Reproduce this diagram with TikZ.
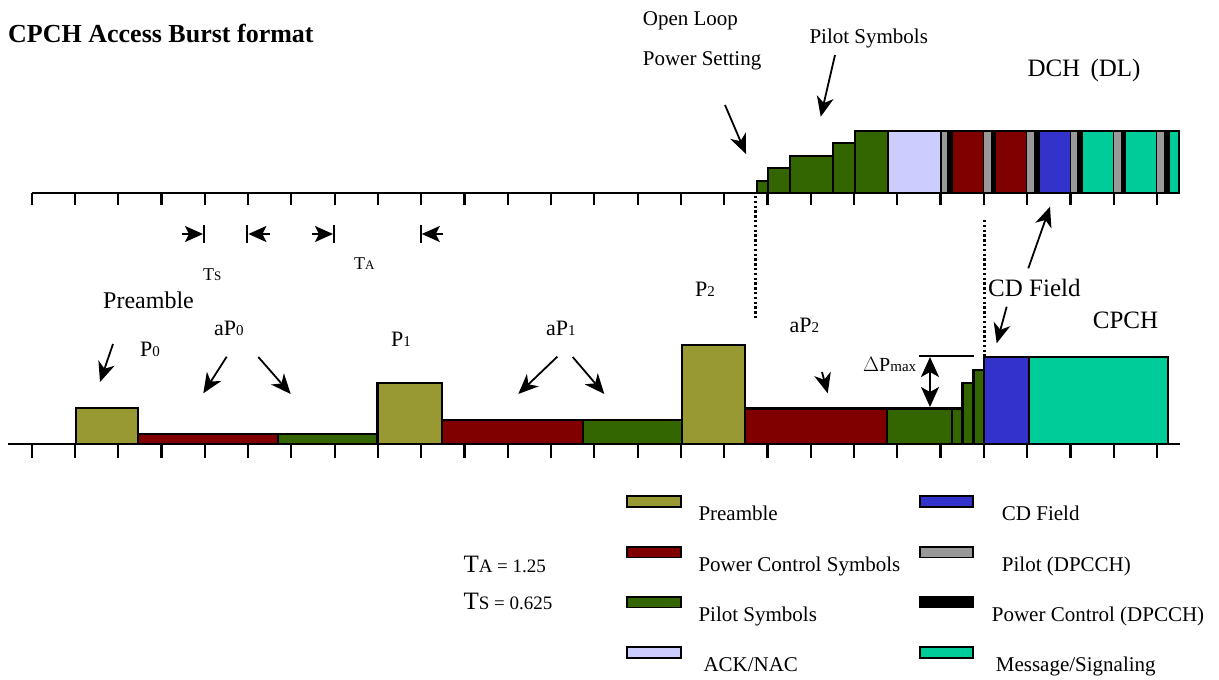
\documentclass[tikz,border=0pt]{standalone}
\usepackage{fontspec}
\setmainfont{Liberation Serif}
\usetikzlibrary{arrows.meta}

\definecolor{preamblecol}{HTML}{999933}
\definecolor{pcsym}{HTML}{800000}
\definecolor{pilotsym}{HTML}{336600}
\definecolor{acknac}{HTML}{CCCCFF}
\definecolor{cdfield}{HTML}{3333CC}
\definecolor{pilotdp}{HTML}{999999}
\definecolor{msgsig}{HTML}{00CC99}

\newcommand{\sm}[1]{{\fontsize{15}{15}\selectfont #1}}
\newcommand{\smt}[1]{{\fontsize{13}{13}\selectfont #1}}
\newcommand{\smb}[1]{{\fontsize{19}{19}\selectfont #1}}

\begin{document}
\begin{tikzpicture}[x=1pt,y=-1pt,
  box/.style={draw=black,line width=2.1pt},
  axisline/.style={line width=2.6pt},
  tickmark/.style={line width=2.2pt},
  pointer/.style={line width=1.8pt,-{Stealth[length=20pt,width=17pt,inset=6pt]}},
  marker/.style={line width=1.8pt,-{Stealth[length=18pt,width=16pt,inset=4pt]}},
  twoway/.style={line width=1.8pt,{Stealth[length=20pt,width=18pt,inset=5pt]}-{Stealth[length=20pt,width=18pt,inset=5pt]}},
  txt/.style={anchor=base west,inner sep=0pt,font=\fontsize{21}{25}\selectfont},
  big/.style={anchor=base west,inner sep=0pt,font=\fontsize{25}{30}\selectfont},
  mid/.style={anchor=base west,inner sep=0pt,font=\fontsize{22}{26}\selectfont},
  small/.style={anchor=base west,inner sep=0pt,font=\fontsize{18}{20}\selectfont},
  dots/.style={line width=2.4pt,dash pattern=on 2.4pt off 2.4pt},
  legbox/.style={draw=black,line width=1.8pt},
]
\useasboundingbox (0,0) rectangle (1219,680);

% ---------- title ----------
\node[anchor=base west,inner sep=0pt,font=\fontsize{26}{30}\selectfont\bfseries] (title) at (8,42) {CPCH Access Burst format};

% ---------- downlink (DCH) time axis ----------
\draw[axisline] (31.7,193) -- (1180,193);
\foreach \i in {0,...,26}
  \draw[tickmark] ({31.7+43.28*\i},193) -- ({31.7+43.28*\i},205);

% power ramp of pilot symbols
\filldraw[box,fill=pilotsym] (756.7,193) rectangle (767.7,180.7);
\filldraw[box,fill=pilotsym] (767.7,193) rectangle (790,168.3);
\filldraw[box,fill=pilotsym] (790,193) rectangle (833,156);
\filldraw[box,fill=pilotsym] (833,193) rectangle (855,143.3);
\filldraw[box,fill=pilotsym] (855,193) rectangle (887.7,130.7);
\filldraw[box,fill=acknac] (887.7,193) rectangle (940.7,130.7);

% DPCH slots: pilot, power control, data field
\foreach \k/\c in {0/pcsym,1/pcsym,2/cdfield,3/msgsig,4/msgsig}{
  \fill[pilotdp] ({940.7+43.3*\k},193) rectangle ({947.4+43.3*\k},130.7);
  \fill[black] ({947.4+43.3*\k},193) rectangle ({952+43.3*\k},130.7);
  \filldraw[box,fill=\c] ({952+43.3*\k},193) rectangle ({984+43.3*\k},130.7);
}
\fill[pilotdp] (1157.2,193) rectangle (1163.9,130.7);
\fill[black] (1163.9,193) rectangle (1168.5,130.7);
\filldraw[box,fill=msgsig] (1168.5,193) rectangle (1179.3,130.7);
\draw[box] (940.7,193) rectangle (1179.3,130.7);

% ---------- access time markers ----------
\foreach \x in {204,247.3,334,420.7}
  \draw[line width=2.2pt] (\x,225) -- (\x,243);
\coordinate (ts1) at (182,234); \coordinate (ts1e) at (203,234);
\coordinate (ts2) at (270,234); \coordinate (ts2e) at (248.4,234);
\coordinate (ta1) at (311.7,234); \coordinate (ta1e) at (333,234);
\coordinate (ta2) at (443.3,234); \coordinate (ta2e) at (421.8,234);
\draw[marker] (ts1) -- (ts1e);
\draw[marker] (ts2) -- (ts2e);
\draw[marker] (ta1) -- (ta1e);
\draw[marker] (ta2) -- (ta2e);
\node[small] (tslbl) at (203,280) {T\smt{S}};
\node[small] (talbl) at (354,269) {T\smt{A}};

% ---------- uplink (CPCH) time axis ----------
\draw[axisline] (8,444) -- (1180,444);
\foreach \i in {0,...,26}
  \draw[tickmark] ({31.7+43.28*\i},444) -- ({31.7+43.28*\i},458);

% preambles and their power control / pilot parts
\filldraw[box,fill=preamblecol] (76,444) rectangle (138.3,408.3);
\filldraw[box,fill=pcsym] (138.3,444) rectangle (278.3,433.7);
\filldraw[box,fill=pilotsym] (278.3,444) rectangle (377.5,433.7);
\filldraw[box,fill=preamblecol] (377.5,444) rectangle (442.3,382.7);
\filldraw[box,fill=pcsym] (442.3,444) rectangle (583.3,420);
\filldraw[box,fill=pilotsym] (583.3,444) rectangle (681.7,420);
\filldraw[box,fill=preamblecol] (681.7,444) rectangle (745.3,345);
\filldraw[box,fill=pcsym] (745.3,444) rectangle (886.7,408.5);
\filldraw[box,fill=pilotsym] (886.7,444) rectangle (951.7,408.5);
\filldraw[box,fill=pilotsym] (951.7,444) rectangle (962.5,408.5);
\filldraw[box,fill=pilotsym] (962.5,444) rectangle (973.5,382.7);
\filldraw[box,fill=pilotsym] (973.5,444) rectangle (984,370);
\filldraw[box,fill=cdfield] (984,444) rectangle (1029,357);
\filldraw[box,fill=msgsig] (1029,444) rectangle (1168.3,357);

% maximum power step
\draw[line width=2.6pt] (919,356) -- (974,356);
\coordinate (dpt) at (930,357); \coordinate (dpb) at (930,407);
\draw[twoway] (dpt) -- (dpb);
\node[anchor=base west,inner sep=0pt,font=\fontsize{20}{24}\selectfont] (dpmax) at (863,371) {$\Delta$P\sm{max}};

% alignment guides
\coordinate (g1t) at (755.5,196); \coordinate (g1b) at (755.5,318);
\coordinate (g2t) at (984.5,220); \coordinate (g2b) at (984.5,357);
\draw[dots] (g1t) -- (g1b);
\draw[dots] (g2t) -- (g2b);

% ---------- labels ----------
\node[txt] (openloop) at (642.7,25) {Open Loop};
\node[txt] (powerset) at (642.7,65.7) {Power Setting};
\node[txt] (pilotlbl) at (809.3,43.3) {Pilot Symbols};
\node[big] (dchlbl) at (1027.3,76) {DCH\hspace{4pt} (DL)};
\node[big] (cdlbl) at (988,296.7) {CD Field};
\node[big] (cpchlbl) at (1092.7,328.3) {CPCH};
\node[anchor=base west,inner sep=0pt,font=\fontsize{24}{28}\selectfont] (prelbl) at (103,308) {Preamble};
\node[mid] (p0lbl) at (140,356) {P\sm{0}};
\node[mid] (ap0lbl) at (214,335) {aP\sm{0}};
\node[mid] (p1lbl) at (391,346) {P\sm{1}};
\node[mid] (ap1lbl) at (546,335) {aP\sm{1}};
\node[mid] (p2lbl) at (695,296) {P\sm{2}};
\node[mid] (ap2lbl) at (789.3,332.3) {aP\sm{2}};

% ---------- pointers ----------
\coordinate (o1) at (725,105);    \coordinate (o2) at (746,154);
\coordinate (s1) at (835,55);     \coordinate (s2) at (820.7,116.7);
\coordinate (c1) at (1028.3,268.3); \coordinate (c2) at (1050,206.7);
\coordinate (d1) at (1006.7,306.7); \coordinate (d2) at (996.7,343.3);
\coordinate (r1) at (113,344);    \coordinate (r2) at (100,382);
\coordinate (a1) at (226.7,356.7); \coordinate (a2) at (203.3,393.3);
\coordinate (b1) at (258.3,357);  \coordinate (b2) at (290.7,394);
\coordinate (e1) at (557.3,356.7); \coordinate (e2) at (518.3,394);
\coordinate (f1) at (572.7,357);  \coordinate (f2) at (604.3,394);
\coordinate (h1) at (822,372);    \coordinate (h2) at (827.7,393.3);
\draw[pointer] (o1) -- (o2);
\draw[pointer] (s1) -- (s2);
\draw[pointer] (c1) -- (c2);
\draw[pointer] (d1) -- (d2);
\draw[pointer] (r1) -- (r2);
\draw[pointer] (a1) -- (a2);
\draw[pointer] (b1) -- (b2);
\draw[pointer] (e1) -- (e2);
\draw[pointer] (f1) -- (f2);
\draw[pointer] (h1) -- (h2);

% ---------- timing values ----------
\node[anchor=base west,inner sep=0pt,font=\fontsize{25}{30}\selectfont] (tav) at (463.3,572.7) {T\smb{A = 1.25}};
\node[anchor=base west,inner sep=0pt,font=\fontsize{25}{30}\selectfont] (tsv) at (463.3,609.3) {T\smb{S = 0.625}};

% ---------- legend ----------
\filldraw[legbox,fill=preamblecol] (627.3,496) rectangle (680.7,506.7);
\filldraw[legbox,fill=pcsym] (627.3,546.7) rectangle (680.7,557.4);
\filldraw[legbox,fill=pilotsym] (627.3,596.7) rectangle (680.7,607.4);
\filldraw[legbox,fill=acknac] (627.3,647.3) rectangle (680.7,658);
\node[txt] (lg1) at (698.3,520.7) {Preamble};
\node[txt] (lg2) at (698.3,571.7) {Power Control Symbols};
\node[txt] (lg3) at (698.3,621.7) {Pilot Symbols};
\node[txt] (lg4) at (703.3,671.7) {ACK/NAC};

\filldraw[legbox,fill=cdfield] (920,496) rectangle (973.3,506.7);
\filldraw[legbox,fill=pilotdp] (920,546.7) rectangle (973.3,557.4);
\filldraw[legbox,fill=black] (920,596.7) rectangle (973.3,607.4);
\filldraw[legbox,fill=msgsig] (920,647.3) rectangle (973.3,658);
\node[txt] (lg5) at (1001.7,520.7) {CD Field};
\node[txt] (lg6) at (1001.7,571.7) {Pilot (DPCCH)};
\node[txt] (lg7) at (991.7,621.7) {Power Control (DPCCH)};
\node[txt] (lg8) at (995.7,671.7) {Message/Signaling};
\end{tikzpicture}
\end{document}
